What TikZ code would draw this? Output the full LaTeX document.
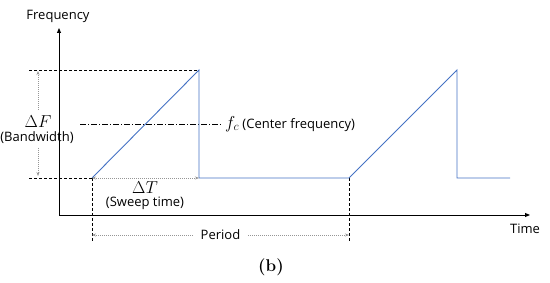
\documentclass[tikz,border=0pt]{standalone}
\usepackage{fontspec}
\setsansfont{Open Sans}
\usetikzlibrary{arrows.meta}
\definecolor{sigblue}{RGB}{68,114,196}
\definecolor{dimgray}{RGB}{150,150,150}
\begin{document}
\begin{tikzpicture}[x=1pt,y=-1pt,
  lbl/.style={font=\sffamily\fontsize{13}{15}\selectfont, inner sep=1pt, text=black},
  mth/.style={font=\fontsize{17}{19}\selectfont, inner sep=1pt, text=black},
  axis/.style={line width=0.9pt, -{Triangle[length=5pt,width=4pt]}},
  sig/.style={sigblue, line width=0.9pt},
  guide/.style={line width=0.8pt, dash pattern=on 3pt off 2pt},
  dimarrow/.style={dimgray, line width=0.6pt, dash pattern=on 1pt off 1pt, {Stealth[length=4pt,width=3pt]}-{Stealth[length=4pt,width=3pt]}},
  onearrow/.style={dimgray, line width=0.6pt, dash pattern=on 1pt off 1pt, -{Stealth[length=4pt,width=3pt]}}
]
\useasboundingbox (0,0) rectangle (550,283);
% coordinates
\coordinate (O) at (59,215);
\coordinate (Ytop) at (59,28);
\coordinate (Xend) at (530,215);
\coordinate (A) at (92,178);
\coordinate (B) at (199,70);
\coordinate (C) at (199,178);
\coordinate (D) at (349,178);
\coordinate (E) at (457,70);
\coordinate (F) at (457,178);
\coordinate (G) at (510,178);
\coordinate (TL) at (29,70);
\coordinate (BL) at (29,178);
\coordinate (Ab) at (92,242);
\coordinate (Db) at (349,242);
\coordinate (Pa) at (92,235);
\coordinate (Pb) at (349,235);
\coordinate (FcL) at (80,124);
\coordinate (FcR) at (222,124);
\coordinate (UpS) at (38,110);
\coordinate (UpE) at (38,71);
\coordinate (DnS) at (38,148);
\coordinate (DnE) at (38,176);
% axes
\draw[axis] (O) -- (Ytop);
\draw[axis] (O) -- (Xend);
\node[lbl] (freq) at (58,16) {Frequency};
\node[lbl] (time) at (525,229) {Time};
% guides
\draw[guide] (TL) -- (B);
\draw[guide] (BL) -- (A);
\draw[guide] (A) -- (Ab);
\draw[guide] (D) -- (Db);
\draw[line width=0.7pt, dash pattern=on 6pt off 2pt on 1pt off 2pt] (FcL) -- (FcR);
% signal
\draw[sig] (A) -- (B) -- (C) -- (D) -- (E) -- (F) -- (G);
% labels
\node[mth] (dF) at (38,122) {$\Delta F$};
\node[lbl] (bw) at (37,138) {(Bandwidth)};
\draw[onearrow] (UpS) -- (UpE);
\draw[onearrow] (DnS) -- (DnE);
\node[lbl, anchor=west] (fc) at (224,124) {\fontsize{17}{19}\selectfont$f_c$\fontsize{13}{15}\selectfont{} (Center frequency)};
\draw[dimarrow] (A) -- (C);
\node[mth] (dT) at (145,188) {$\Delta T$};
\node[lbl] (sw) at (145,203) {(Sweep time)};
\draw[dimarrow] (Pa) -- node[lbl, fill=white, inner xsep=8pt] (per) {Period} (Pb);
\node[font=\bfseries\fontsize{17}{19}\selectfont] (cap) at (271,267) {(b)};
\end{tikzpicture}
\end{document}
